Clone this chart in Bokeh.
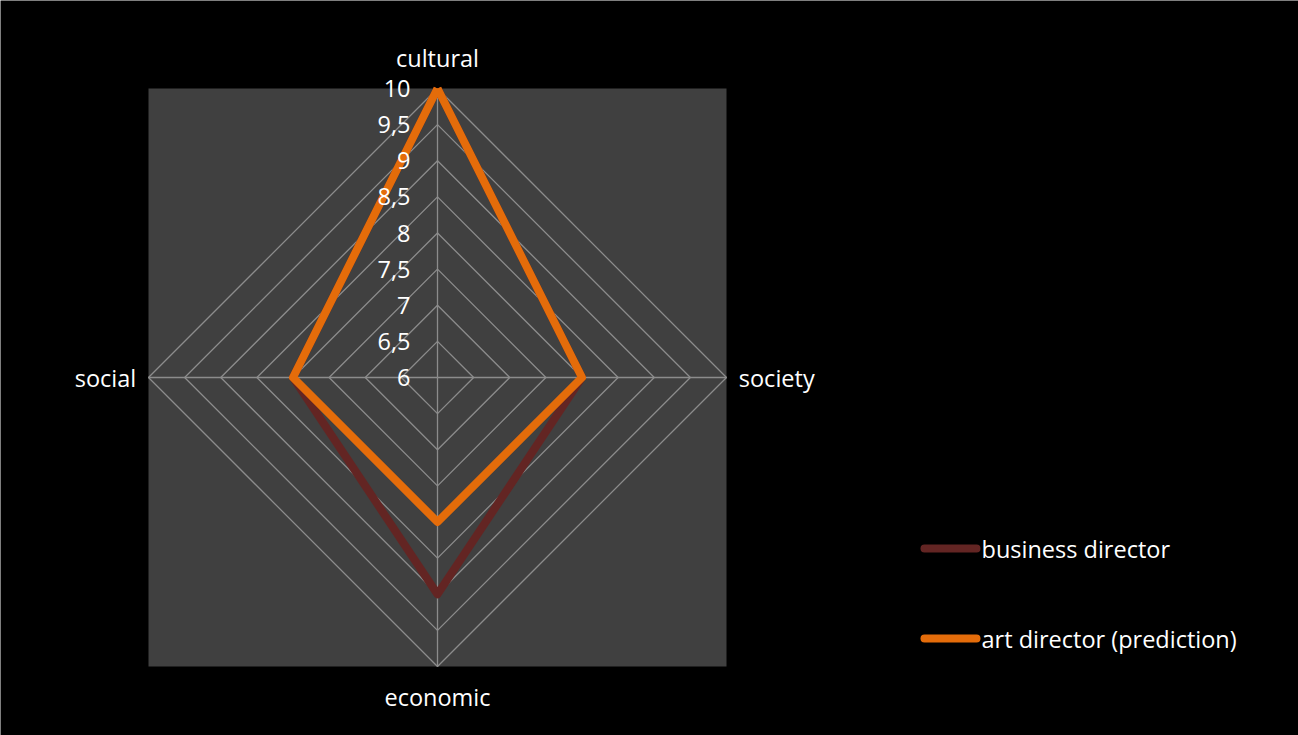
import numpy as np
from bokeh.plotting import figure
from bokeh.models import Range1d
from bokeh.core.properties import value
from bokeh.embed import file_html
from bokeh.resources import INLINE

categories = ["cultural", "society", "economic", "social"]
business_director = [10, 8, 9, 8]
art_director = [10, 8, 8, 8]
series_names = ["business director", "art director (prediction)"]
series_colors = ["#632523", "#E46C0A"]
tick_values = [6, 6.5, 7, 7.5, 8, 8.5, 9, 9.5, 10]
tick_labels = ["6", "6,5", "7", "7,5", "8", "8,5", "9", "9,5", "10"]

W, H = 1298, 735
cx, cy = 437, 377          # centre in pixels
ppu = 72.25                # pixels per unit
rmin, rmax = 6, 10
FS = "23.5px"

def px2x(px):
    return (px - cx) / ppu

def py2y(py):
    return (cy - py) / ppu

p = figure(width=W, height=H, output_backend="svg", toolbar_location=None,
           x_range=Range1d(px2x(0), px2x(W)), y_range=Range1d(py2y(H), py2y(0)),
           x_axis_location=None, y_axis_location=None, min_border=0,
           background_fill_color="black", border_fill_color="black")
p.outline_line_color = None
p.grid.visible = False

# angles: cultural top, then clockwise
n = len(categories)
angles = np.pi / 2 - np.arange(n) * 2 * np.pi / n
R = rmax - rmin

# plot area background
p.quad(left=[-R], right=[R], bottom=[-R], top=[R], fill_color="#404040", line_color=None)

# grid rings
for t in tick_values[1:]:
    r = t - rmin
    xs = list(r * np.cos(angles)) + [r * np.cos(angles[0])]
    ys = list(r * np.sin(angles)) + [r * np.sin(angles[0])]
    p.line(xs, ys, line_color="#8C8C8C", line_width=1.3)
# spokes
for a in angles:
    p.line([0, R * np.cos(a)], [0, R * np.sin(a)], line_color="#8C8C8C", line_width=1.3)

# series
for vals, col in zip([business_director, art_director], series_colors):
    r = np.array(vals, dtype=float) - rmin
    xs = list(r * np.cos(angles)) + [r[0] * np.cos(angles[0])]
    ys = list(r * np.sin(angles)) + [r[0] * np.sin(angles[0])]
    p.line(xs, ys, line_color=col, line_width=8, line_join="round")

# tick labels along the cultural axis
p.text(x=[px2x(410)] * len(tick_values), y=[t - rmin for t in tick_values], text=tick_labels,
       text_align="right", text_baseline="middle", text_color="white",
       text_font=value("Open Sans"), text_font_size=FS)

# category labels
lab_off = 0.42
common = dict(text_baseline="middle", text_color="white", text_font=value("Open Sans"), text_font_size=FS)
p.text(x=[0], y=[R + lab_off], text=[categories[0]], text_align="center", **common)
p.text(x=[R + 0.17], y=[0], text=[categories[1]], text_align="left", **common)
p.text(x=[0], y=[-R - lab_off], text=[categories[2]], text_align="center", **common)
p.text(x=[-R - 0.17], y=[0], text=[categories[3]], text_align="right", **common)

# legend
leg_y = [548, 638]
for name, col, ly in zip(series_names, series_colors, leg_y):
    p.line([px2x(924), px2x(976)], [py2y(ly), py2y(ly)], line_color=col, line_width=8, line_cap="round")
    p.text(x=[px2x(981)], y=[py2y(ly)], text=[name], text_align="left", **common)

open("out.html", "w").write(file_html(p, INLINE))
